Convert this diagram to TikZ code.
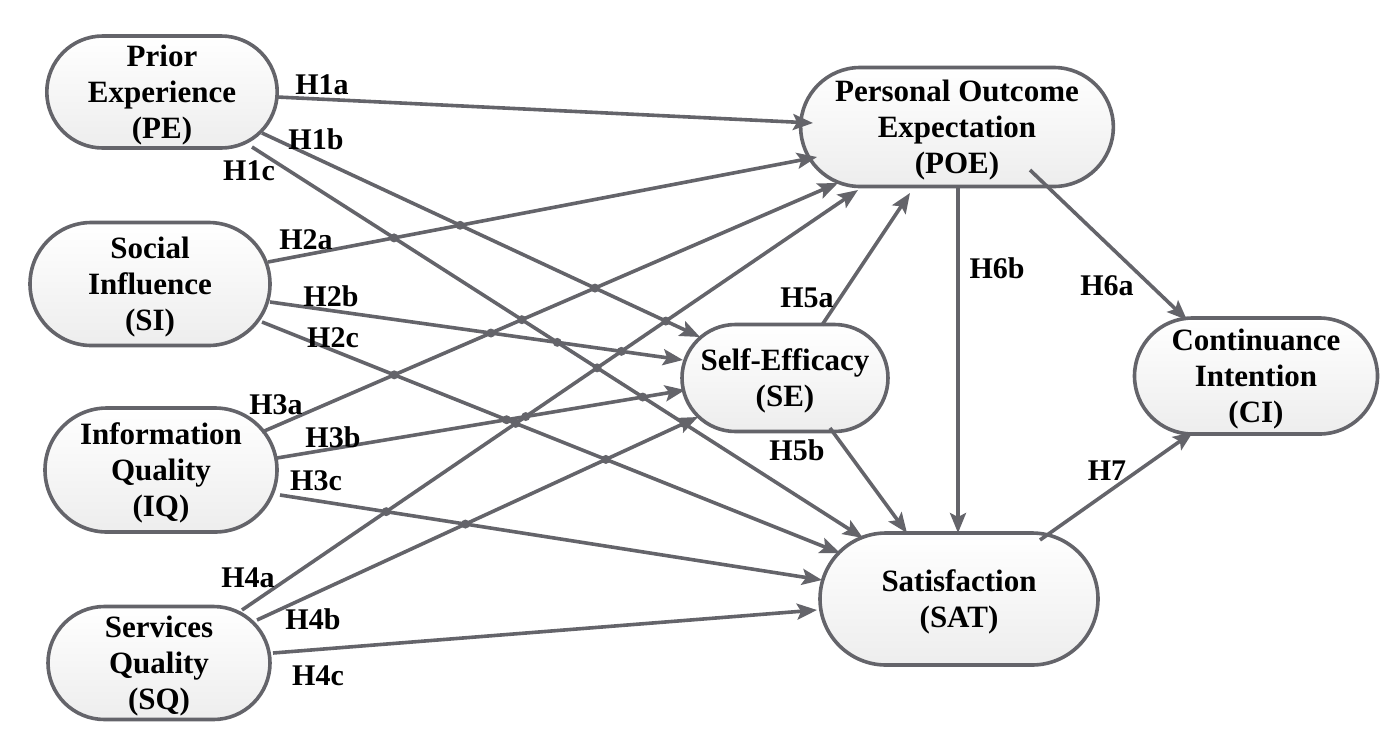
\documentclass[tikz,border=0pt]{standalone}
\usepackage{fontspec}
\setmainfont{Liberation Serif}[BoldFont={Liberation Serif Bold}]
\usetikzlibrary{arrows.meta,intersections,shapes.misc}
\definecolor{edgegray}{RGB}{100,100,106}
\newcommand\mycrossdots[2]{%
  \path[name intersections={of=#1 and #2,total=\tot}]\pgfextra{\xdef\mytot{\tot}};%
  \ifnum\mytot>0
    \foreach \q in {1,...,\mytot}{\fill[edgegray] (intersection-\q) circle (4.5);}%
  \fi}
\newcommand\ctext[1]{\raisebox{-3.5pt}[\height][\depth]{\begin{tabular}{@{}c@{}}#1\end{tabular}}}
\begin{document}
\begin{tikzpicture}[x=1pt,y=-1pt,
  construct/.style={rounded rectangle,draw=edgegray,line width=3.6pt,
    top color=white,bottom color=black!7,inner sep=0pt,
    font=\bfseries\fontsize{31}{36}\selectfont},
  hlabel/.style={font=\bfseries\fontsize{30}{34}\selectfont,inner sep=0pt},
  arr/.style={draw=edgegray,line width=3.6pt,
    -{Stealth[length=20pt,width=16pt,inset=4pt]}}]
\useasboundingbox (0,0) rectangle (1390,745);

% constructs
\node[construct,minimum width=230pt,minimum height=112pt] (PE) at (162,92) {\ctext{Prior\\Experience\\(PE)}};
\node[construct,minimum width=240pt,minimum height=123pt] (SI) at (150,284) {\ctext{Social\\Influence\\(SI)}};
\node[construct,minimum width=232pt,minimum height=124pt] (IQ) at (161,470) {\ctext{Information\\Quality\\(IQ)}};
\node[construct,minimum width=222pt,minimum height=113pt] (SQ) at (159,663) {\ctext{Services\\Quality\\(SQ)}};
\node[construct,minimum width=291pt,minimum height=119pt] (POE) at (957,127) {\ctext{Personal Outcome\\Expectation\\(POE)}};
\node[construct,minimum width=206pt,minimum height=107pt] (SE) at (785,378) {\ctext{Self-Efficacy\\(SE)}};
\node[construct,minimum width=278pt,minimum height=132pt] (SAT) at (959,599) {\ctext{Satisfaction\\(SAT)}};
\node[construct,minimum width=243pt,minimum height=116pt] (CI) at (1256,376) {\ctext{Continuance\\Intention\\(CI)}};

% paths from the antecedents
\draw[arr,name path=L1] ([shift={(115,5)}]PE.center) -- ([shift={(-144,-4)}]POE.center);
\draw[arr,name path=L2] ([shift={(100,41)}]PE.center) -- ([shift={(-85,-41)}]SE.center);
\draw[arr,name path=L3] ([shift={(90,55)}]PE.center) -- ([shift={(-96,-61)}]SAT.center);
\draw[arr,name path=L4] ([shift={(118,-22)}]SI.center) -- ([shift={(-140,30)}]POE.center);
\draw[arr,name path=L5] ([shift={(120,18)}]SI.center) -- ([shift={(-102,-18)}]SE.center);
\draw[arr,name path=L6] ([shift={(112,38)}]SI.center) -- ([shift={(-119,-46)}]SAT.center);
\draw[arr,name path=L7] ([shift={(101,-38)}]IQ.center) -- ([shift={(-119,56)}]POE.center);
\draw[arr,name path=L8] ([shift={(116,-12)}]IQ.center) -- ([shift={(-100,12)}]SE.center);
\draw[arr,name path=L9] ([shift={(119,25)}]IQ.center) -- ([shift={(-137,-19)}]SAT.center);
\draw[arr,name path=L10] ([shift={(83,-53)}]SQ.center) -- ([shift={(-99,63)}]POE.center);
\draw[arr,name path=L11] ([shift={(98,-43)}]SQ.center) -- ([shift={(-87,39)}]SE.center);
\draw[arr,name path=L12] ([shift={(114,-10)}]SQ.center) -- ([shift={(-142,11)}]SAT.center);

% mediating and outcome paths
\draw[arr] ([shift={(37,-53)}]SE.center) -- ([shift={(-47,66)}]POE.center);
\draw[arr] ([shift={(45,50)}]SE.center) -- ([shift={(-52,-66)}]SAT.center);
\draw[arr] ([shift={(1,60)}]POE.center) -- ([shift={(-1,-66)}]SAT.center);
\draw[arr] ([shift={(73,43)}]POE.center) -- ([shift={(-69,-56)}]CI.center);
\draw[arr] ([shift={(81,-59)}]SAT.center) -- ([shift={(-63,56)}]CI.center);

% crossing dots
\foreach \i in {1,...,11}{%
  \pgfmathtruncatemacro\jj{\i+1}%
  \foreach \k in {\jj,...,12}{\mycrossdots{L\i}{L\k}}%
}

% labels
\node[hlabel] (h1a) at (322,85) {H1a};
\node[hlabel] (h1b) at (316,139) {H1b};
\node[hlabel] (h1c) at (249,171) {H1c};
\node[hlabel] (h2a) at (306,240) {H2a};
\node[hlabel] (h2b) at (331,296) {H2b};
\node[hlabel] (h2c) at (333,338) {H2c};
\node[hlabel] (h3a) at (276,405) {H3a};
\node[hlabel] (h3b) at (333,437) {H3b};
\node[hlabel] (h3c) at (316,481) {H3c};
\node[hlabel] (h4a) at (248,578) {H4a};
\node[hlabel] (h4b) at (313,619) {H4b};
\node[hlabel] (h4c) at (318,676) {H4c};
\node[hlabel] (h5a) at (807,298) {H5a};
\node[hlabel] (h5b) at (797,450) {H5b};
\node[hlabel] (h6b) at (997,268) {H6b};
\node[hlabel] (h6a) at (1107,286) {H6a};
\node[hlabel] (h7) at (1107,471) {H7};
\end{tikzpicture}
\end{document}
